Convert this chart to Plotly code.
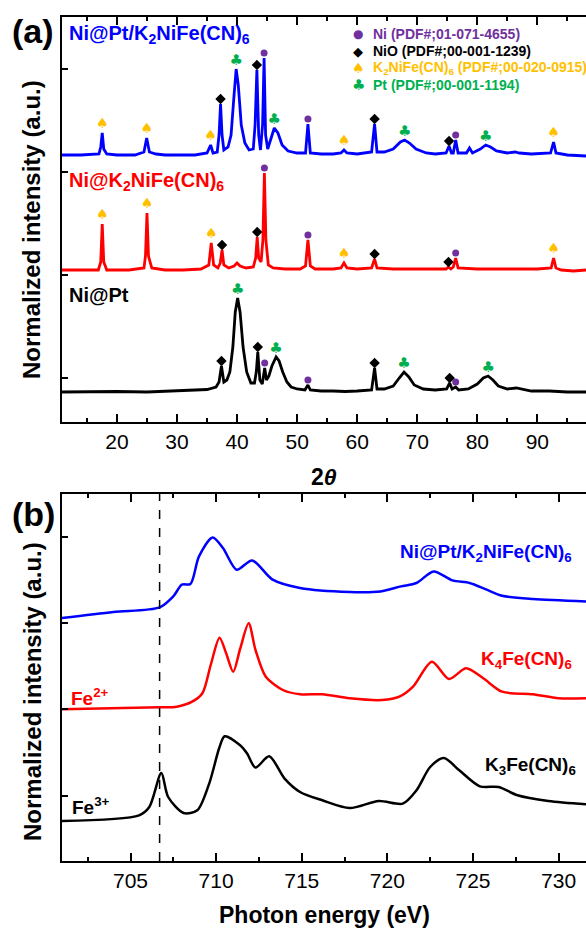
import numpy as np
import plotly.graph_objects as go

# ---------------- (a) XRD patterns ----------------
# 2-theta (deg) and intensity above each pattern's own baseline (a.u.)
xrd_black_x = [10.85, 15, 20, 25, 30, 33, 35, 36.5, 37.0, 37.4, 37.8, 38.3, 38.8, 39.3, 39.7, 40.1, 40.5, 41.0,
               41.6, 42.3, 42.9, 43.2, 43.45, 43.8, 44.2, 44.6, 44.9, 45.3, 45.8, 46.5, 47.0, 47.6, 48.3, 49, 50,
               51.3, 51.8, 52.2, 54, 56, 58, 60, 62.4, 62.9, 63.3, 64.5, 66, 67, 67.8, 68.6, 69.5, 71, 73, 74.9,
               75.4, 75.8, 76.4, 76.9, 78.5, 80, 81, 81.8, 82.6, 83.5, 85, 86.5, 87.5, 89, 92, 95, 98.1]
xrd_black_y = [0, 0.5, 0.5, 0, 1, 1.5, 2.5, 5, 10, 26, 10, 12, 20, 45, 80, 94, 80, 45,
               20, 9, 9, 20, 40, 12, 8, 24, 12, 16, 26, 35, 31, 20, 10, 5, 3,
               2, 7, 2, 1, 1, 0.5, 1, 2, 24, 3, 3, 6, 14, 20, 15, 7, 3, 2, 3,
               9, 3, 5, 2, 3, 8, 14, 16, 12, 6, 3, 4, 3, 1, 1, 0, 0]

xrd_red_x = [10.85, 16.9, 17.3, 17.55, 17.8, 18.3, 22, 24.5, 24.75, 25.0, 25.25, 25.8, 28, 31, 34, 35.3, 35.7,
             36.1, 36.8, 37.2, 37.5, 37.8, 38.6, 39.5, 40.0, 40.5, 41.5, 42.7, 43.1, 43.35, 43.6, 44.0, 44.3,
             44.55, 44.8, 45.2, 46, 48, 50.5, 51.4, 51.8, 52.2, 53, 56, 57.3, 57.8, 58.3, 60, 62.4, 62.9, 63.3,
             66, 70, 74.8, 75.2, 75.6, 76.0, 76.4, 76.8, 80, 85, 90, 92.3, 92.7, 93.1, 94, 96, 98.1]
xrd_red_y = [0, 0, 8, 46, 8, 0, 0, 2, 14, 57, 14, 2, 0, 0, 1, 5, 27,
             5, 2, 7, 20, 5, 2, 4, 7, 4, 2, 3, 12, 33, 12, 8, 30,
             97, 30, 5, 2, 1, 1, 4, 30, 4, 1, 1, 2, 7, 2, 1, 2, 11, 2,
             1, 1, 1, 3, 1, 3, 12, 2, 1, 1, 1, 2, 12, 2, 0, -1, 0]

xrd_blue_x = [10.85, 14, 17.0, 17.3, 17.55, 17.8, 18.3, 20, 23, 24.5, 24.95, 25.4, 26.5, 28, 31, 33, 35.0, 35.6,
              36.0, 36.7, 37.0, 37.25, 37.5, 37.8, 38.5, 39.0, 39.5, 39.85, 40.2, 40.7, 41.3, 42.0, 42.7, 43.0,
              43.3, 43.6, 43.9, 44.25, 44.5, 44.75, 45.1, 45.6, 46.2, 46.8, 47.5, 48.5, 50, 51.4, 51.8, 52.2,
              54, 56, 57.3, 57.8, 58.3, 60, 62.4, 62.9, 63.3, 64.5, 66, 67.2, 67.9, 68.7, 69.8, 71.5, 73, 74.8,
              75.3, 75.7, 76.0, 76.4, 76.8, 78.2, 78.7, 79.2, 80.5, 81.4, 82.2, 83.2, 85, 86.3, 87, 89, 92.2,
              92.7, 93.1, 95, 98.1]
xrd_blue_y = [0, 0, 1, 8, 22, 6, 1, 0, 0, 3, 17, 3, 1, 0, 0, 0, 2, 10,
              2, 3, 20, 51, 20, 5, 8, 20, 60, 86, 70, 30, 12, 5, 6, 30,
              85, 20, 5, 30, 97, 20, 6, 15, 27, 22, 10, 4, 2, 2, 31, 2,
              1, 1, 2, 5, 2, 1, 3, 31, 3, 3, 6, 13, 15, 12, 6, 2, 1, 2,
              9, 2, 2, 15, 2, 2, 7, 2, 6, 10, 8, 4, 2, 3, 2, 1, 2,
              13, 2, 0, -1]

xrd_offsets = {"black": 30, "red": 152, "blue": 267}

# reflection positions assigned to each phase, per pattern
refl_blue = {"Ni": [44.5, 51.8, 76.4], "NiO": [37.25, 43.3, 62.9, 75.3],
             "KNF": [17.55, 24.95, 35.6, 57.8, 92.7], "Pt": [39.85, 46.2, 67.9, 81.4]}
refl_red = {"Ni": [44.55, 51.8, 76.4], "NiO": [37.5, 43.35, 62.9, 75.2],
            "KNF": [17.55, 25.0, 35.7, 57.8, 92.7]}
refl_black = {"Ni": [44.6, 51.8, 76.4], "NiO": [37.4, 43.45, 62.9, 75.4],
              "Pt": [40.1, 46.5, 67.8, 81.8]}

legend_labels = {
    "Ni": "Ni (PDF#;01-071-4655)",
    "NiO": "NiO (PDF#;00-001-1239)",
    "KNF": "K<sub>2</sub>NiFe(CN)<sub>6</sub> (PDF#;00-020-0915)",
    "Pt": "Pt (PDF#;00-001-1194)",
}

# ---------------- (b) Fe L-edge XAS ----------------
xas_blue_x = [701.0, 704.0, 706.7, 707.5, 708.0, 708.5, 709.0, 709.8, 710.4, 711.2, 712.1, 713.3, 714.9, 717.8,
              719.6, 720.8, 721.7, 722.7, 723.8, 724.8, 725.8, 726.7, 728.5, 731.6]
xas_blue_y = [0, 6, 10.6, 21.6, 33.3, 34, 61.6, 80.6, 70, 48.3, 57.6, 38.3, 30, 26,
              26.6, 31.6, 35, 46.6, 37.6, 35, 28.3, 22.3, 19, 16.6]

xas_red_x = [701.0, 706.7, 707.7, 708.6, 709.2, 709.7, 710.2, 710.6, 711.0, 711.4, 711.9, 712.3, 712.9, 713.9,
             714.9, 716.2, 717.8, 719.7, 720.7, 721.5, 722.6, 723.6, 724.6, 725.6, 726.7, 728.5, 730.0, 731.6]
xas_red_y = [-0.3, 1.7, 2.3, 7.3, 15.7, 45, 71.3, 55, 37.3, 60, 85.7, 59, 32.3, 19,
             14.7, 14.7, 10.7, 9, 12.3, 22.3, 47.3, 30, 40.7, 30.7, 17.3, 14.7, 10.7, 10.7]

xas_black_x = [701.0, 705.5, 706.1, 706.8, 707.2, 708.1, 708.9, 709.6, 710.2, 710.5, 711.4, 711.8, 712.3, 713.1,
               714.0, 714.9, 716.2, 717.8, 719.5, 720.9, 721.7, 722.5, 723.3, 724.2, 725.4, 726.5, 727.6,
               729.4, 731.6]
xas_black_y = [0, 5.7, 14, 48, 24, 8, 10.7, 37.7, 74, 84.7, 75.7, 67.7, 53.4, 64.7,
               42.4, 29, 20.7, 13, 20, 17.4, 30.7, 54, 63, 50.7, 34.7, 34, 25.7,
               20, 16.7]

xas_offsets = {"black": 40, "red": 152, "blue": 243}
fe_edge = 706.7

# ---------------- styling ----------------
BLUE, RED, BLACK = "#0000FF", "#FF0000", "#000000"
PURPLE, GOLD, GREEN = "#7030A0", "#FFC000", "#00B050"
FONT = "Liberation Sans, Arial, sans-serif"
GLYPH_FONT = "DejaVu Sans"

W, H = 586, 930
ML, MR, MT, MB = 62, 0, 17, 69
PW, PH = W - ML - MR, H - MT - MB


def px(x):
    return (x - ML) / PW


def py(y):
    return (H - MB - y) / PH


fig = go.Figure()

# XRD curves
for xs, ys, key, col in [(xrd_blue_x, xrd_blue_y, "blue", BLUE),
                         (xrd_red_x, xrd_red_y, "red", RED),
                         (xrd_black_x, xrd_black_y, "black", BLACK)]:
    fig.add_trace(go.Scatter(x=xs, y=np.array(ys) + xrd_offsets[key], mode="lines",
                             line=dict(color=col, width=2.8), xaxis="x", yaxis="y",
                             showlegend=False, hoverinfo="skip"))


def peak_top(xs, ys, pos, win=0.3):
    xs = np.asarray(xs)
    ys = np.asarray(ys)
    m = np.abs(xs - pos) <= win
    return ys[m].max() if m.any() else np.interp(pos, xs, ys)


phase_style = {
    "Ni": dict(kind="marker", symbol="circle", size=7, color=PURPLE, lift=5),
    "NiO": dict(kind="marker", symbol="diamond", size=8, color=BLACK, lift=5),
    "KNF": dict(kind="glyph", glyph="\u2660", size=14, color=GOLD, lift=9),
    "Pt": dict(kind="glyph", glyph="\u2663", size=15, color=GREEN, lift=8),
}

for xs, ys, key, refl in [(xrd_blue_x, xrd_blue_y, "blue", refl_blue),
                          (xrd_red_x, xrd_red_y, "red", refl_red),
                          (xrd_black_x, xrd_black_y, "black", refl_black)]:
    for phase, positions in refl.items():
        st = phase_style[phase]
        my = [peak_top(xs, ys, p) + xrd_offsets[key] + st["lift"] for p in positions]
        if st["kind"] == "marker":
            fig.add_trace(go.Scatter(x=positions, y=my, mode="markers",
                                     marker=dict(symbol=st["symbol"], size=st["size"], color=st["color"],
                                                 line=dict(width=0)),
                                     xaxis="x", yaxis="y", showlegend=False, hoverinfo="skip"))
        else:
            fig.add_trace(go.Scatter(x=positions, y=my, mode="text", text=[st["glyph"]] * len(positions),
                                     textposition="middle center",
                                     textfont=dict(family=GLYPH_FONT, size=st["size"], color=st["color"]),
                                     xaxis="x", yaxis="y", showlegend=False, hoverinfo="skip"))

# XAS curves
for xs, ys, key, col in [(xas_blue_x, xas_blue_y, "blue", BLUE),
                         (xas_red_x, xas_red_y, "red", RED),
                         (xas_black_x, xas_black_y, "black", BLACK)]:
    fig.add_trace(go.Scatter(x=xs, y=np.array(ys) + xas_offsets[key], mode="lines",
                             line=dict(color=col, width=2.5, shape="spline", smoothing=0.8),
                             xaxis="x2", yaxis="y2", showlegend=False, hoverinfo="skip"))

axis_common = dict(showline=True, linewidth=2, linecolor=BLACK, showgrid=False, zeroline=False,
                   ticks="inside", tickcolor=BLACK, tickwidth=1.5)

fig.update_layout(
    width=W, height=H,
    margin=dict(l=ML, r=MR, t=MT, b=MB),
    paper_bgcolor="white", plot_bgcolor="white",
    font=dict(family=FONT, color=BLACK),
    xaxis=dict(**axis_common, domain=[0, 1], anchor="y", range=[10.85, 98.1], mirror="ticks",
               tick0=0, dtick=10, ticklen=8,
               minor=dict(ticks="inside", ticklen=4, tick0=0, dtick=5, tickcolor=BLACK, tickwidth=1.5),
               tickfont=dict(size=21, family=FONT)),
    yaxis=dict(**axis_common, domain=[py(422), 1], anchor="x", range=[0, 405],
               tickvals=[44, 147, 250, 353], ticklen=6, showticklabels=False),
    xaxis2=dict(**axis_common, domain=[0, 1], anchor="y2", range=[701.0, 731.6], mirror="ticks",
                tick0=0, dtick=5, ticklen=8,
                minor=dict(ticks="inside", ticklen=4, tick0=0, dtick=2.5, tickcolor=BLACK, tickwidth=1.5),
                tickfont=dict(size=21, family=FONT)),
    yaxis2=dict(**axis_common, domain=[0, py(494)], anchor="x2", range=[0, 367],
                tickvals=[65, 152, 238, 324], ticklen=6, showticklabels=False),
)

fig.add_shape(type="line", xref="x2", yref="y2 domain", x0=fe_edge, x1=fe_edge, y0=0, y1=1,
              line=dict(color=BLACK, width=1.5, dash="dash"))

ann = []


def text(x, y, s, size, color=BLACK, xanchor="left", bold=True, angle=0, family=FONT):
    ann.append(dict(x=px(x), y=py(y), xref="paper", yref="paper", text=s, showarrow=False,
                    xanchor=xanchor, yanchor="middle", textangle=angle,
                    font=dict(family=family, size=size, color=color, weight="bold" if bold else "normal")))


# panel tags
text(10, 31, "(a)", 34)
text(10, 514, "(b)", 34)

# axis titles
text(32, 230, "Normalized intensity (a.u.)", 24, xanchor="center", angle=-90)
text(32, 692, "Normalized intensity (a.u.)", 24, xanchor="center", angle=-90)
text(324, 477, "2<i>\u03b8</i>", 23, xanchor="center")
text(324, 915, "Photon energy (eV)", 23, xanchor="center")

# series labels, panel (a)
text(67, 34, "Ni@Pt/K<sub>2</sub>NiFe(CN)<sub>6</sub>", 20, BLUE)
text(67, 181, "Ni@K<sub>2</sub>NiFe(CN)<sub>6</sub>", 20, RED)
text(67, 295, "Ni@Pt", 20, BLACK)

# series labels, panel (b)
text(574, 553, "Ni@Pt/K<sub>2</sub>NiFe(CN)<sub>6</sub>", 19, BLUE, xanchor="right")
text(574, 660, "K<sub>4</sub>Fe(CN)<sub>6</sub>", 19, RED, xanchor="right")
text(578, 766, "K<sub>3</sub>Fe(CN)<sub>6</sub>", 19, BLACK, xanchor="right")
text(69, 697, "Fe<sup>2+</sup>", 19, RED)
text(70, 806, "Fe<sup>3+</sup>", 19, BLACK)

# phase key, panel (a)
key_rows = [("Ni", "\u25cf", PURPLE, 12, PURPLE),
            ("NiO", "\u25c6", BLACK, 13, BLACK),
            ("KNF", "\u2660", GOLD, 14, GOLD),
            ("Pt", "\u2663", GREEN, 15, GREEN)]
for i, (phase, g, gcol, gsize, tcol) in enumerate(key_rows):
    yy = 34 + i * 17
    text(358, yy, g, gsize, gcol, xanchor="center", bold=False, family=GLYPH_FONT)
    text(371, yy, legend_labels[phase], 14, tcol)

fig.update_layout(annotations=ann)

fig.write_html("out.html")
